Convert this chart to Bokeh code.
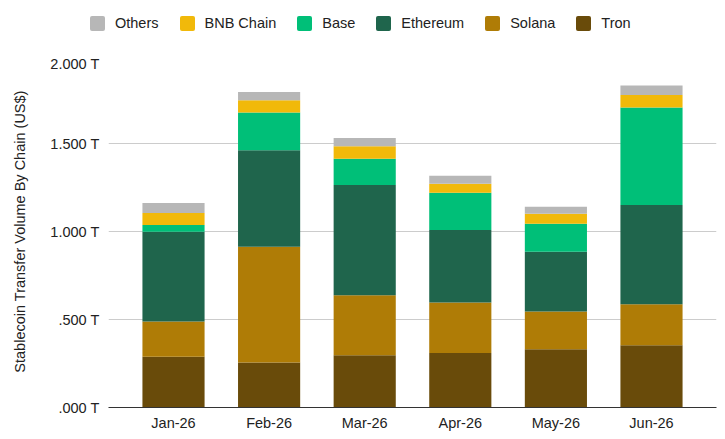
from bokeh.plotting import figure
from bokeh.layouts import column
from bokeh.models import ColumnDataSource, FactorRange, FixedTicker, Div
from bokeh.transform import stack
from bokeh.embed import file_html
from bokeh.resources import INLINE

months = ["Jan-26", "Feb-26", "Mar-26", "Apr-26", "May-26", "Jun-26"]
# values in trillions of US$
tron     = [0.289, 0.255, 0.297, 0.310, 0.331, 0.354]
solana   = [0.199, 0.659, 0.341, 0.286, 0.214, 0.233]
ethereum = [0.511, 0.548, 0.626, 0.412, 0.340, 0.563]
base     = [0.038, 0.214, 0.149, 0.212, 0.159, 0.555]
bnb      = [0.068, 0.070, 0.072, 0.051, 0.057, 0.070]
others   = [0.057, 0.047, 0.046, 0.046, 0.040, 0.055]

series_names = ["Tron", "Solana", "Ethereum", "Base", "BNB Chain", "Others"]
series_cols = ["tron", "solana", "ethereum", "base", "bnb", "others"]
colors = ["#694B0A", "#AF7C06", "#1F654C", "#00BF78", "#F1B90A", "#B7B7B7"]

y_ticks = [0.0, 0.5, 1.0, 1.5, 2.0]
y_tick_labels = [".000 T", ".500 T", "1.000 T", "1.500 T", "2.000 T"]

source = ColumnDataSource(dict(months=months, tron=tron, solana=solana, ethereum=ethereum,
                               base=base, bnb=bnb, others=others))

FONT = "Liberation Sans"
FS = "14.5px"

# ---- main chart ----
p = figure(frame_width=608, frame_height=352, x_range=FactorRange(*months, range_padding=0.06),
           y_range=(0, 2.0), output_backend="svg", toolbar_location=None,
           min_border_left=108, min_border_right=1, min_border_top=0, min_border_bottom=23)
p.outline_line_color = None

for i, col in enumerate(series_cols):
    p.vbar(x="months", width=0.65, bottom=stack(*series_cols[:i]), top=stack(*series_cols[:i + 1]),
           source=source, fill_color=colors[i], line_color=None)

p.xgrid.grid_line_color = None
p.ygrid.grid_line_color = "#CCCCCC"
p.ygrid.ticker = FixedTicker(ticks=y_ticks)

p.yaxis.ticker = FixedTicker(ticks=y_ticks)
p.yaxis.major_label_overrides = {t: l for t, l in zip(y_ticks, y_tick_labels)}
p.yaxis.axis_line_color = None
p.yaxis.major_tick_line_color = None
p.yaxis.minor_tick_line_color = None
p.yaxis.major_tick_out = 0
p.yaxis.minor_tick_out = 0
p.yaxis.major_label_standoff = 9
p.yaxis.major_label_text_font = FONT
p.yaxis.major_label_text_font_size = FS
p.yaxis.major_label_text_color = "#222222"
p.yaxis.axis_label = "Stablecoin Transfer Volume By Chain (US$)"
p.yaxis.axis_label_text_font = FONT
p.yaxis.axis_label_text_font_size = FS
p.yaxis.axis_label_text_font_style = "normal"
p.yaxis.axis_label_text_color = "#222222"
p.yaxis.axis_label_standoff = 19

p.xaxis.axis_line_color = "#333333"
p.xaxis.major_tick_line_color = None
p.xaxis.minor_tick_line_color = None
p.xaxis.major_tick_out = 0
p.xaxis.minor_tick_out = 0
p.xaxis.major_label_standoff = 7
p.xaxis.major_label_text_font = FONT
p.xaxis.major_label_text_font_size = FS
p.xaxis.major_label_text_color = "#222222"

# ---- legend strip above the chart (Others first, as in the reference) ----
entries = []
for i in reversed(range(6)):
    entries.append(
        '<span style="display:inline-flex;align-items:center;margin-right:21px;">'
        f'<span style="display:inline-block;width:15px;height:15px;border-radius:2px;'
        f'background:{colors[i]};margin-right:10px;"></span>{series_names[i]}</span>'
    )
legend_html = ('<div style="display:flex;align-items:center;height:15px;line-height:15px;'
               'padding-left:90px;padding-top:23px;white-space:nowrap;">' + "".join(entries) + '</div>')
legend_div = Div(text=legend_html, width=717, height=55, margin=0,
                 styles={"font-family": FONT, "font-size": FS, "color": "#222222"})

layout = column(legend_div, p, spacing=0)
open("out.html", "w").write(file_html(layout, INLINE))
